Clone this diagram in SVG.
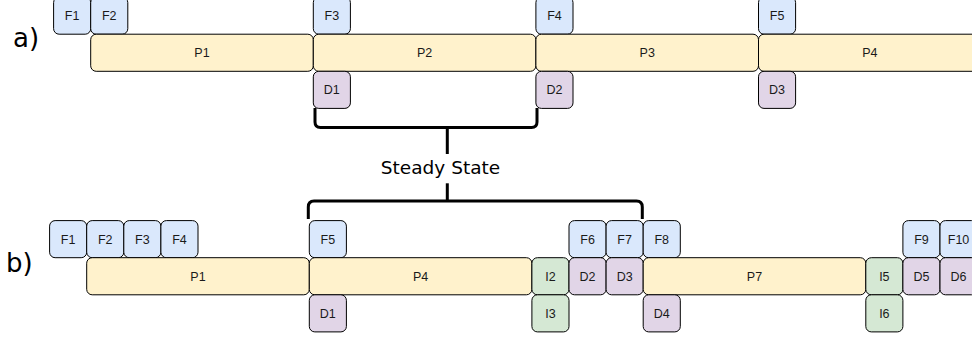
<svg xmlns="http://www.w3.org/2000/svg" width="972" height="339" viewBox="0 0 972 339">
<style>
rect{stroke:#000;stroke-width:1}
.f{fill:#dae8fc}.p{fill:#fff2cc}.d{fill:#e1d5e7}.i{fill:#d5e8d4}
text.l{font-family:"Liberation Sans",Arial,sans-serif;font-size:12.5px;fill:#1a1a1a;text-anchor:middle}
text.big{font-family:"DejaVu Sans",Verdana,sans-serif;fill:#000}
.br{fill:none;stroke:#000;stroke-width:3}
</style>
<rect x="0" y="0" width="972" height="339" fill="#fff" style="stroke:none"/>
<text class="big" x="13" y="46.5" font-size="26">a)</text>
<text class="big" x="6" y="272" font-size="26">b)</text>
<text class="big" x="440.5" y="173.5" font-size="18.5" text-anchor="middle">Steady State</text>
<g id="connectors">
<path class="br" d="M315,108 V122 Q315,127.5 320.5,127.5 H531.5 Q537,127.5 537,122 V108"/>
<path class="br" d="M447.3,127.5 V154"/>
<path class="br" d="M447.3,183.3 V201"/>
<path class="br" d="M308.3,219 V207 Q308.3,201 314,201 H636.5 Q642.3,201 642.3,207 V219"/>
</g>
<!-- row a -->
<g id="a-F1"><rect class="f" x="53.6" y="-2.9" width="37.1" height="37.1" rx="5.5"/><text class="l" x="72.15" y="20.2">F1</text></g>
<g id="a-F2"><rect class="f" x="90.7" y="-2.9" width="37.1" height="37.1" rx="5.5"/><text class="l" x="109.25" y="20.2">F2</text></g>
<g id="a-P1"><rect class="p" x="90.7" y="34.2" width="222.6" height="37.1" rx="5.5"/><text class="l" x="202" y="57.3">P1</text></g>
<g id="a-F3"><rect class="f" x="313.3" y="-2.9" width="37.1" height="37.1" rx="5.5"/><text class="l" x="331.85" y="20.2">F3</text></g>
<g id="a-P2"><rect class="p" x="313.3" y="34.2" width="222.6" height="37.1" rx="5.5"/><text class="l" x="424.6" y="57.3">P2</text></g>
<g id="a-D1"><rect class="d" x="313.3" y="71.3" width="37.1" height="37.1" rx="5.5"/><text class="l" x="331.85" y="94.4">D1</text></g>
<g id="a-F4"><rect class="f" x="535.9" y="-2.9" width="37.1" height="37.1" rx="5.5"/><text class="l" x="554.45" y="20.2">F4</text></g>
<g id="a-P3"><rect class="p" x="535.9" y="34.2" width="222.6" height="37.1" rx="5.5"/><text class="l" x="647.2" y="57.3">P3</text></g>
<g id="a-D2"><rect class="d" x="535.9" y="71.3" width="37.1" height="37.1" rx="5.5"/><text class="l" x="554.45" y="94.4">D2</text></g>
<g id="a-F5"><rect class="f" x="758.5" y="-2.9" width="37.1" height="37.1" rx="5.5"/><text class="l" x="777.05" y="20.2">F5</text></g>
<g id="a-P4"><rect class="p" x="758.5" y="34.2" width="222.6" height="37.1" rx="5.5"/><text class="l" x="869.8" y="57.3">P4</text></g>
<g id="a-D3"><rect class="d" x="758.5" y="71.3" width="37.1" height="37.1" rx="5.5"/><text class="l" x="777.05" y="94.4">D3</text></g>
<!-- row b -->
<g id="b-F1"><rect class="f" x="49.6" y="220.6" width="37.1" height="37.1" rx="5.5"/><text class="l" x="68.15" y="243.7">F1</text></g>
<g id="b-F2"><rect class="f" x="86.7" y="220.6" width="37.1" height="37.1" rx="5.5"/><text class="l" x="105.25" y="243.7">F2</text></g>
<g id="b-F3"><rect class="f" x="123.8" y="220.6" width="37.1" height="37.1" rx="5.5"/><text class="l" x="142.35" y="243.7">F3</text></g>
<g id="b-F4"><rect class="f" x="160.9" y="220.6" width="37.1" height="37.1" rx="5.5"/><text class="l" x="179.45" y="243.7">F4</text></g>
<g id="b-P1"><rect class="p" x="86.7" y="257.7" width="222.6" height="37.1" rx="5.5"/><text class="l" x="198" y="280.8">P1</text></g>
<g id="b-F5"><rect class="f" x="309.3" y="220.6" width="37.1" height="37.1" rx="5.5"/><text class="l" x="327.85" y="243.7">F5</text></g>
<g id="b-P4"><rect class="p" x="309.3" y="257.7" width="222.6" height="37.1" rx="5.5"/><text class="l" x="420.6" y="280.8">P4</text></g>
<g id="b-D1"><rect class="d" x="309.3" y="294.8" width="37.1" height="37.1" rx="5.5"/><text class="l" x="327.85" y="317.9">D1</text></g>
<g id="b-I2"><rect class="i" x="531.9" y="257.7" width="37.1" height="37.1" rx="5.5"/><text class="l" x="550.45" y="280.8">I2</text></g>
<g id="b-I3"><rect class="i" x="531.9" y="294.8" width="37.1" height="37.1" rx="5.5"/><text class="l" x="550.45" y="317.9">I3</text></g>
<g id="b-F6"><rect class="f" x="569" y="220.6" width="37.1" height="37.1" rx="5.5"/><text class="l" x="587.55" y="243.7">F6</text></g>
<g id="b-D2"><rect class="d" x="569" y="257.7" width="37.1" height="37.1" rx="5.5"/><text class="l" x="587.55" y="280.8">D2</text></g>
<g id="b-F7"><rect class="f" x="606.1" y="220.6" width="37.1" height="37.1" rx="5.5"/><text class="l" x="624.65" y="243.7">F7</text></g>
<g id="b-D3"><rect class="d" x="606.1" y="257.7" width="37.1" height="37.1" rx="5.5"/><text class="l" x="624.65" y="280.8">D3</text></g>
<g id="b-F8"><rect class="f" x="643.2" y="220.6" width="37.1" height="37.1" rx="5.5"/><text class="l" x="661.75" y="243.7">F8</text></g>
<g id="b-P7"><rect class="p" x="643.2" y="257.7" width="222.6" height="37.1" rx="5.5"/><text class="l" x="754.5" y="280.8">P7</text></g>
<g id="b-D4"><rect class="d" x="643.2" y="294.8" width="37.1" height="37.1" rx="5.5"/><text class="l" x="661.75" y="317.9">D4</text></g>
<g id="b-I5"><rect class="i" x="865.8" y="257.7" width="37.1" height="37.1" rx="5.5"/><text class="l" x="884.35" y="280.8">I5</text></g>
<g id="b-I6"><rect class="i" x="865.8" y="294.8" width="37.1" height="37.1" rx="5.5"/><text class="l" x="884.35" y="317.9">I6</text></g>
<g id="b-F9"><rect class="f" x="902.9" y="220.6" width="37.1" height="37.1" rx="5.5"/><text class="l" x="921.45" y="243.7">F9</text></g>
<g id="b-D5"><rect class="d" x="902.9" y="257.7" width="37.1" height="37.1" rx="5.5"/><text class="l" x="921.45" y="280.8">D5</text></g>
<g id="b-F10"><rect class="f" x="940" y="220.6" width="37.1" height="37.1" rx="5.5"/><text class="l" x="958.55" y="243.7">F10</text></g>
<g id="b-D6"><rect class="d" x="940" y="257.7" width="37.1" height="37.1" rx="5.5"/><text class="l" x="958.55" y="280.8">D6</text></g>
</svg>
